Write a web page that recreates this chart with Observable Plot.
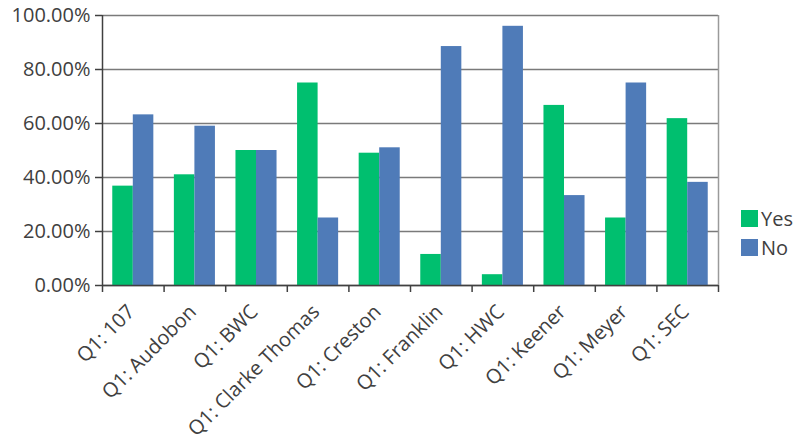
<!DOCTYPE html>
<html>
<head>
<meta charset="utf-8">
<script src="https://cdn.jsdelivr.net/npm/d3@7"></script>
<script src="https://cdn.jsdelivr.net/npm/@observablehq/plot@0.6"></script>
<style>
  body { margin: 0; background: #fff; }
  #chart { position: relative; width: 796px; height: 447px; font-family: "Open Sans", sans-serif; color: #404040; }
  .legend { position: absolute; left: 741px; top: 204px; font-size: 20px; line-height: 29px; }
  .legend div { display: flex; align-items: center; }
  .legend span.sw { display: inline-block; width: 17px; height: 17px; margin-right: 3px; }
</style>
</head>
<body>
<div id="chart"></div>
<script>
// Share of Yes / No answers to Q1 per school
const categories = ["Q1: 107", "Q1: Audobon", "Q1: BWC", "Q1: Clarke Thomas", "Q1: Creston",
                    "Q1: Franklin", "Q1: HWC", "Q1: Keener", "Q1: Meyer", "Q1: SEC"];
const yesPct = [36.8, 41.0, 50.0, 75.0, 49.0, 11.5, 4.0, 66.7, 25.0, 61.8];
const noPct  = [63.2, 59.0, 50.0, 25.0, 51.0, 88.5, 96.0, 33.3, 75.0, 38.2];
const seriesNames = ["Yes", "No"];
const seriesColors = ["#00bf6f", "#4f7bb8"];
const yTicks = [0, 0.2, 0.4, 0.6, 0.8, 1.0];

const rows = categories.flatMap((category, i) => [
  {i, category, series: "Yes", value: yesPct[i] / 100},
  {i, category, series: "No", value: noPct[i] / 100}
]);

// each category occupies one unit on x; the two bars fill its middle two thirds
const left = d => d.i + (d.series === "Yes" ? 1 / 6 : 1 / 2);
const right = d => d.i + (d.series === "Yes" ? 1 / 2 : 5 / 6);

const chart = Plot.plot({
  width: 796,
  height: 447,
  marginLeft: 102,
  marginRight: 78,
  marginTop: 15,
  marginBottom: 162,
  style: {fontSize: "20px", fontFamily: "Open Sans, sans-serif", color: "#404040", background: "#fff"},
  x: {domain: [0, categories.length], label: null},
  y: {domain: [0, 1], label: null},
  color: {domain: seriesNames, range: seriesColors},
  marks: [
    Plot.gridY(yTicks, {stroke: "#7a7a7a", strokeOpacity: 1, strokeWidth: 1.5}),
    Plot.ruleX([categories.length], {stroke: "#9a9a9a", strokeWidth: 1.5}),
    Plot.rectY(rows, {x1: left, x2: right, y1: 0, y2: "value", fill: "series"}),
    Plot.ruleY([0], {stroke: "#404040", strokeWidth: 1.5}),
    Plot.ruleX([0], {stroke: "#404040", strokeWidth: 1.5}),
    Plot.axisY({ticks: yTicks, tickFormat: d3.format(".2%"), tickSize: 7, tickPadding: 5, label: null, stroke: "#404040", strokeWidth: 1.5}),
    Plot.axisX({ticks: d3.range(categories.length + 1), tickFormat: () => "", tickSize: 7, label: null, stroke: "#404040", strokeWidth: 1.5}),
    Plot.axisX({
      ticks: d3.range(categories.length).map(i => i + 0.5),
      tickFormat: v => categories[Math.floor(v)],
      tickSize: 0,
      tickRotate: -45,
      tickPadding: 23,
      dx: -2,
      label: null
    })
  ]
});

const root = document.getElementById("chart");
root.appendChild(chart);

const legend = document.createElement("div");
legend.className = "legend";
seriesNames.forEach((name, k) => {
  const row = document.createElement("div");
  const sw = document.createElement("span");
  sw.className = "sw";
  sw.style.background = seriesColors[k];
  row.appendChild(sw);
  row.appendChild(document.createTextNode(name));
  legend.appendChild(row);
});
root.appendChild(legend);
</script>
</body>
</html>
